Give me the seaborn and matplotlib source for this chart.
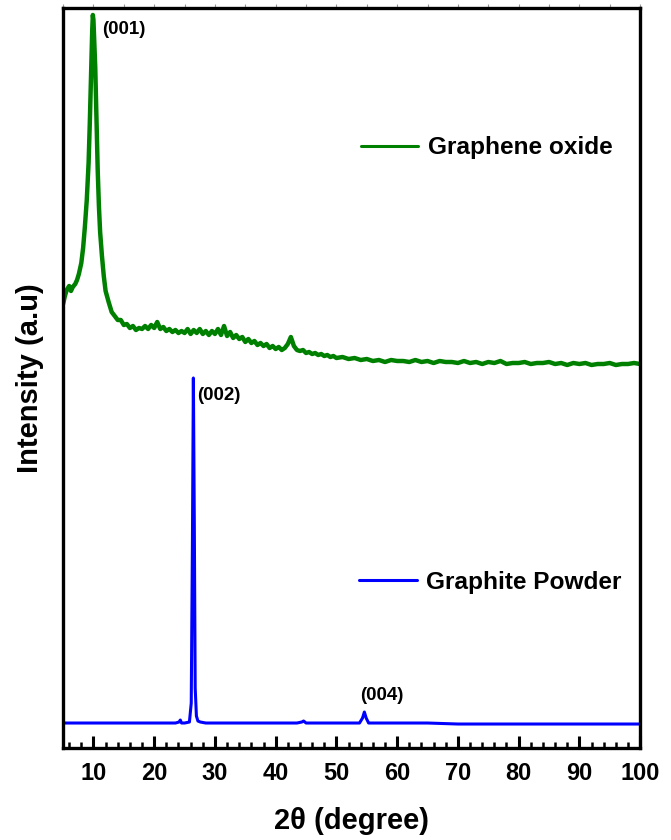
import matplotlib
matplotlib.use("Agg")
import matplotlib.pyplot as plt
from matplotlib.ticker import MultipleLocator, NullLocator
import seaborn as sns

# 2-theta positions and intensities (a.u.) for the graphene oxide pattern
go_theta = [5.0, 5.3, 5.6, 6.0, 6.3, 6.6, 7.0, 7.3, 7.6, 8.0, 8.3, 8.6, 8.9, 9.2, 9.4,
            9.6, 9.8, 9.9, 10.0, 10.1, 10.3, 10.5, 10.7, 10.9, 11.1, 11.4, 11.7,
            12.0, 12.5, 13.0, 13.5, 14.0, 14.5, 15.0, 15.5, 16.0, 16.5, 17.0, 17.5,
            18.0, 18.5, 19.0, 19.5, 20.0, 20.5, 21.0, 21.5, 22.0, 22.5, 23.0, 23.5,
            24.0, 24.5, 25.0, 25.5, 26.0, 26.5, 27.0, 27.5, 28.0, 28.5, 29.0, 29.5,
            30.0, 30.5, 31.0, 31.5, 32.0, 32.5, 33.0, 33.5, 34.0, 34.5, 35.0, 35.5,
            36.0, 36.5, 37.0, 37.5, 38.0, 38.5, 39.0, 39.5, 40.0, 40.5, 41.0, 41.5,
            42.0, 42.5, 43.0, 43.5, 44.0, 44.5, 45.0, 45.5, 46.0, 46.5, 47.0, 47.5,
            48.0, 48.5, 49.0, 49.5, 50.0,
            51, 52, 53, 54, 55, 56, 57, 58, 59, 60, 61, 62, 63, 64, 65, 66, 67, 68,
            69, 70, 71, 72, 73, 74, 75, 76, 77, 78, 79, 80, 81, 82, 83, 84, 85, 86,
            87, 88, 89, 90, 91, 92, 93, 94, 95, 96, 97, 98, 99, 100]
go_intensity = [444, 452, 458, 462, 457, 461, 464, 468, 474, 485, 500, 522, 548, 585, 625,
                670, 718, 733, 728, 712, 680, 630, 578, 542, 516, 492, 472,
                457, 446, 436, 432, 428, 428, 423, 424, 420, 422, 418, 420,
                419, 422, 419, 423, 420, 426, 419, 421, 417, 419, 416, 418,
                415, 417, 415, 419, 414, 418, 415, 419, 414, 417, 413, 417,
                414, 419, 413, 422, 412, 416, 410, 413, 409, 411, 406, 409,
                405, 407, 403, 405, 402, 404, 400, 402, 399, 401, 398, 400,
                404, 411, 402, 398, 397, 398, 395, 396, 394, 395, 393, 394,
                392, 393, 391, 392, 390,
                391, 389, 390, 388, 389, 387, 388, 386, 388, 387, 387, 386, 388, 386,
                387, 385, 387, 386, 386, 385, 387, 385, 386, 384, 386, 385, 387, 384,
                385, 385, 386, 384, 385, 385, 386, 384, 385, 383, 385, 384, 385, 383,
                384, 384, 385, 383, 384, 384, 385, 384]

# 2-theta positions and intensities (a.u.) for the graphite powder pattern
gp_theta = [5, 8, 12, 16, 20, 23.5, 24.1, 24.3, 24.5, 25, 25.8, 26.1, 26.3, 26.45,
            26.6, 26.75, 26.95, 27.2, 27.6, 28.5, 32, 38, 43.5, 44.3, 44.6, 45, 50,
            53.8, 54.3, 54.6, 54.9, 55.3, 60, 65, 70, 75, 80, 84, 85, 90, 95, 100]
gp_intensity = [25, 25, 25, 25, 25, 25, 26, 28, 25, 25, 26, 45, 210, 370,
                230, 60, 32, 27, 26, 25, 25, 25, 25, 26, 27, 25, 25,
                25, 30, 36, 30, 25, 25, 25, 24, 24, 24, 24, 24, 24, 24, 24]

# Reflection labels: (text, 2-theta, intensity)
peak_labels = [("(001)", 11.5, 718), ("(002)", 27.0, 353), ("(004)", 53.9, 53)]
series_names = ["Graphene oxide", "Graphite Powder"]

sns.set_theme(style="white")
plt.rcParams["font.family"] = ["Liberation Sans", "DejaVu Sans"]
plt.rcParams["font.weight"] = "bold"
plt.rcParams["text.color"] = "black"
plt.rcParams["axes.labelcolor"] = "black"
plt.rcParams["xtick.color"] = "black"
plt.rcParams["ytick.color"] = "black"

fig = plt.figure(figsize=(6.71, 8.40), dpi=100)
ax = fig.add_axes([0.094, 0.1095, 0.860, 0.881])

sns.lineplot(x=go_theta, y=go_intensity, ax=ax, color="#008000", linewidth=3.2,
             estimator=None, sort=False, legend=False)
sns.lineplot(x=gp_theta, y=gp_intensity, ax=ax, color="#0000ff", linewidth=2.2,
             estimator=None, sort=False, legend=False)
go_line, gp_line = ax.lines[0], ax.lines[1]

ax.set_xlim(5, 100)
ax.set_ylim(0, 740)

ax.xaxis.set_major_locator(MultipleLocator(10))
ax.xaxis.set_minor_locator(MultipleLocator(2))
ax.yaxis.set_major_locator(NullLocator())
ax.tick_params(axis="x", which="major", direction="in", length=9, width=2.2,
               color="black", labelcolor="black", labelsize=17, pad=10, bottom=True)
ax.tick_params(axis="x", which="minor", direction="in", length=4.5, width=1.8,
               color="black", bottom=True)
for lab in ax.get_xticklabels():
    lab.set_fontweight("bold")

top = ax.secondary_xaxis("top")
top.xaxis.set_major_locator(MultipleLocator(5))
top.tick_params(axis="x", direction="out", length=3, width=0.8, color="#999999",
                labeltop=False)
top.spines["top"].set_visible(False)

for side in ["left", "right", "top", "bottom"]:
    ax.spines[side].set_visible(True)
    ax.spines[side].set_color("black")
    ax.spines[side].set_linewidth(2.4)

ax.set_xlabel("2θ (degree)", fontsize=21, fontweight="bold", labelpad=16, color="black")
ax.set_ylabel("Intensity (a.u)", fontsize=21, fontweight="bold", labelpad=14, color="black")

for text, xpos, ypos in peak_labels:
    ax.text(xpos, ypos, text, fontsize=13.5, fontweight="bold", ha="left",
            va="center", color="black")

leg_kw = dict(frameon=False, handlelength=2.35, handletextpad=0.4,
              borderpad=0, borderaxespad=0, loc="center left", labelcolor="black",
              prop={"weight": "bold", "size": 17.6})
leg1 = ax.legend([go_line], [series_names[0]], bbox_to_anchor=(0.516, 0.811), **leg_kw)
ax.add_artist(leg1)
leg2 = ax.legend([gp_line], [series_names[1]], bbox_to_anchor=(0.513, 0.224), **leg_kw)
for lg in (leg1, leg2):
    for h in lg.legend_handles:
        h.set_linewidth(2.2)

fig.savefig("out.png", dpi=100)
